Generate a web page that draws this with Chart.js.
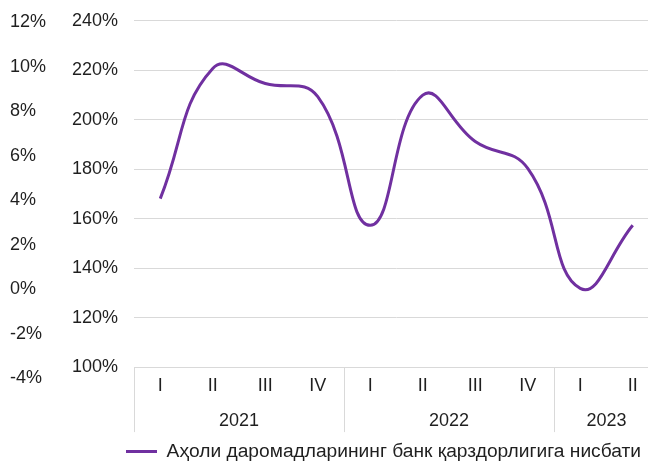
<!DOCTYPE html>
<html>
<head>
<meta charset="utf-8">
<title>Аҳоли даромадларининг банк қарздорлигига нисбати</title>
<script src="https://cdn.jsdelivr.net/npm/chart.js@4"></script>
<style>
  html, body { margin: 0; padding: 0; background: #fff; overflow: hidden; }
</style>
</head>
<body>
<canvas id="ratioChart" width="660" height="464"></canvas>
<script>
// quarterly data, 2021 - 2023 Q2
const quarters = ["I", "II", "III", "IV", "I", "II", "III", "IV", "I", "II"];
const years = ["2021", "2022", "2023"];
const quartersPerYear = [4, 4, 2];
const ratioValues = [168.1, 220.7, 214.6, 209.3, 157.3, 209.9, 191.2, 180.3, 131.8, 157.3];
const rightTicks = [100, 120, 140, 160, 180, 200, 220, 240];
const leftTicks = [-4, -2, 0, 2, 4, 6, 8, 10, 12];
const seriesLabel = "Аҳоли даромадларининг банк қарздорлигига нисбати";

const textColor = "#1f1f1f";
const gridColor = "#d9d9d9";
const lineColor = "#7030a0";

Chart.defaults.font.family = "'Liberation Sans', Arial, sans-serif";
Chart.defaults.font.size = 18;
Chart.defaults.color = textColor;

// year groups: first category index and centre position of every group
const yearStarts = [];
const yearCenters = [];
let pos = 0;
quartersPerYear.forEach(function (n) {
  yearStarts.push(pos);
  yearCenters.push(pos - 0.5 + n / 2);
  pos += n;
});

// move the legend a bit to the left of the plot start
const legendShift = {
  id: "legendShift",
  afterLayout(chart) {
    const lg = chart.legend;
    const dx = chart.chartArea.left - 18 - lg.left;
    lg.left += dx;
    lg.right += dx;
  },
};

const ctx = document.getElementById("ratioChart").getContext("2d");

new Chart(ctx, {
  type: "line",
  data: {
    labels: quarters,
    datasets: [
      {
        label: seriesLabel,
        data: ratioValues,
        xAxisID: "x",
        yAxisID: "y",
        borderColor: lineColor,
        backgroundColor: lineColor,
        borderWidth: 3,
        pointRadius: 0,
        pointHoverRadius: 0,
        tension: 0.45,
        fill: false,
      },
    ],
  },
  options: {
    responsive: false,
    animation: false,
    layout: {
      padding: { top: 20.7, left: 10, right: 1, bottom: -7.2 },
    },
    plugins: {
      tooltip: { enabled: false },
      legend: {
        position: "bottom",
        align: "start",
        fullSize: false,
        labels: {
          usePointStyle: true,
          pointStyle: "line",
          pointStyleWidth: 31,
          padding: 10,
          color: textColor,
          font: { size: 19.2 },
        },
      },
    },
    scales: {
      x: {
        type: "category",
        position: "bottom",
        weight: 0,
        offset: true,
        grid: {
          offset: true,
          drawOnChartArea: false,
          drawTicks: true,
          tickLength: 65,
          lineWidth: 1,
          color: function (c) {
            return yearStarts.includes(c.index) ? gridColor : "rgba(0,0,0,0)";
          },
        },
        border: { display: true, color: gridColor, width: 1 },
        ticks: {
          padding: -56.8,
          autoSkip: false,
          maxRotation: 0,
          minRotation: 0,
        },
        afterFit: function (axis) {
          axis.height = 43.3;
        },
      },
      x2: {
        type: "linear",
        position: "bottom",
        weight: 1,
        min: -0.5,
        max: quarters.length - 0.5,
        grid: { display: false, drawTicks: false },
        border: { display: false },
        afterBuildTicks: function (axis) {
          axis.ticks = yearCenters.map(function (v) { return { value: v }; });
        },
        ticks: {
          padding: 0,
          autoSkip: false,
          maxRotation: 0,
          callback: function (v, i) { return years[i]; },
        },
      },
      y: {
        type: "linear",
        position: "left",
        weight: 0,
        min: rightTicks[0],
        max: rightTicks[rightTicks.length - 1],
        grid: { color: gridColor, lineWidth: 1, drawTicks: false },
        border: { display: false },
        afterBuildTicks: function (axis) {
          axis.ticks = rightTicks.map(function (v) { return { value: v }; });
        },
        ticks: {
          padding: 0,
          crossAlign: "far",
          autoSkip: false,
          callback: function (v) { return v + "%"; },
        },
        afterFit: function (axis) {
          axis.width = 62;
        },
      },
      y2: {
        type: "linear",
        position: "left",
        weight: 1,
        min: -3.51,
        max: 12.08,
        grid: { display: false, drawTicks: false },
        border: { display: false },
        afterBuildTicks: function (axis) {
          axis.ticks = leftTicks.map(function (v) { return { value: v }; });
        },
        ticks: {
          padding: 0,
          crossAlign: "far",
          autoSkip: false,
          callback: function (v) { return v + "%"; },
        },
        afterFit: function (axis) {
          axis.width = 62;
        },
      },
    },
  },
  plugins: [legendShift],
});
</script>
</body>
</html>
